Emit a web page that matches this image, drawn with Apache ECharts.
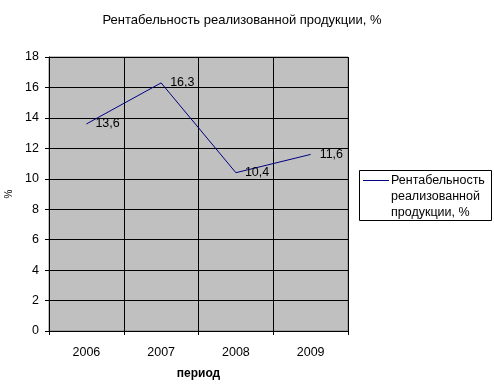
<!DOCTYPE html>
<html><head><meta charset="utf-8">
<script src="https://cdn.jsdelivr.net/npm/echarts@6/dist/echarts.min.js"></script>
<style>html,body{margin:0;padding:0;background:#fff}#c{width:494px;height:391px}</style>
</head><body><div id="c"></div>
<script>
const categories = ['2006', '2007', '2008', '2009'];
const values = [13.6, 16.3, 10.4, 11.6];
const seriesName = 'Рентабельность реализованной продукции, %';
const yTicks = {min: 0, max: 18, interval: 2};
const chartTitle = 'Рентабельность реализованной продукции, %';
const xName = 'период';
const yName = '%';

const FONT = '"Liberation Sans", Arial, sans-serif';
const chart = echarts.init(document.getElementById('c'), null, {renderer: 'canvas'});
chart.setOption({
  animation: false,
  backgroundColor: '#fff',
  title: {text: chartTitle, left: 237, top: 9, textAlign: 'center',
    textStyle: {fontFamily: FONT, fontSize: 13, fontWeight: 'normal', color: '#000'}},
  grid: {left: 49, right: 146, top: 57, bottom: 60, show: true, containLabel: false,
    outerBoundsMode: 'none',
    backgroundColor: '#C0C0C0', borderColor: '#808080', borderWidth: 1},
  xAxis: {type: 'category', data: categories, boundaryGap: true,
    name: xName, nameLocation: 'middle', nameGap: 37,
    nameTextStyle: {fontFamily: FONT, fontSize: 12, fontWeight: 'bold', color: '#000'},
    axisLine: {lineStyle: {color: '#000', width: 1}},
    axisTick: {show: true, length: 4, lineStyle: {color: '#000'}},
    axisLabel: {fontFamily: FONT, fontSize: 12.5, color: '#000', margin: 15},
    splitLine: {show: true, lineStyle: {color: '#000', width: 1}}},
  yAxis: {type: 'value', min: yTicks.min, max: yTicks.max, interval: yTicks.interval,
    name: yName, nameLocation: 'middle', nameGap: 33, nameRotate: 90,
    nameTextStyle: {fontFamily: FONT, fontSize: 10, color: '#000'},
    axisLine: {show: true, lineStyle: {color: '#000', width: 1}},
    axisTick: {show: true, length: 4, lineStyle: {color: '#000'}},
    axisLabel: {fontFamily: FONT, fontSize: 12.5, color: '#000', margin: 10},
    splitLine: {show: true, lineStyle: {color: '#000', width: 1}}},
  series: [{type: 'line', name: seriesName, data: values, showSymbol: true, symbol: 'circle', symbolSize: 2,
    lineStyle: {color: '#000080', width: 1},
    itemStyle: {color: 'rgba(0,0,0,0)', borderColor: 'rgba(0,0,0,0)', borderWidth: 0},
    label: {show: true, position: 'right', distance: 8, fontFamily: FONT, fontSize: 12.5, color: '#000',
      formatter: p => String(p.value).replace('.', ',')}}],
  graphic: [
    {type: 'rect', shape: {x: 359.5, y: 170.5, width: 132, height: 50},
      style: {fill: '#fff', stroke: '#000', lineWidth: 1}},
    {type: 'line', shape: {x1: 363, y1: 180.5, x2: 389, y2: 180.5},
      style: {stroke: '#000080', lineWidth: 1}},
    {type: 'text', left: 391, top: 173,
      style: {text: 'Рентабельность\nреализованной\nпродукции, %', fontFamily: FONT, fontSize: 12.5,
        lineHeight: 16, fill: '#000'}}
  ]
});
</script></body></html>
